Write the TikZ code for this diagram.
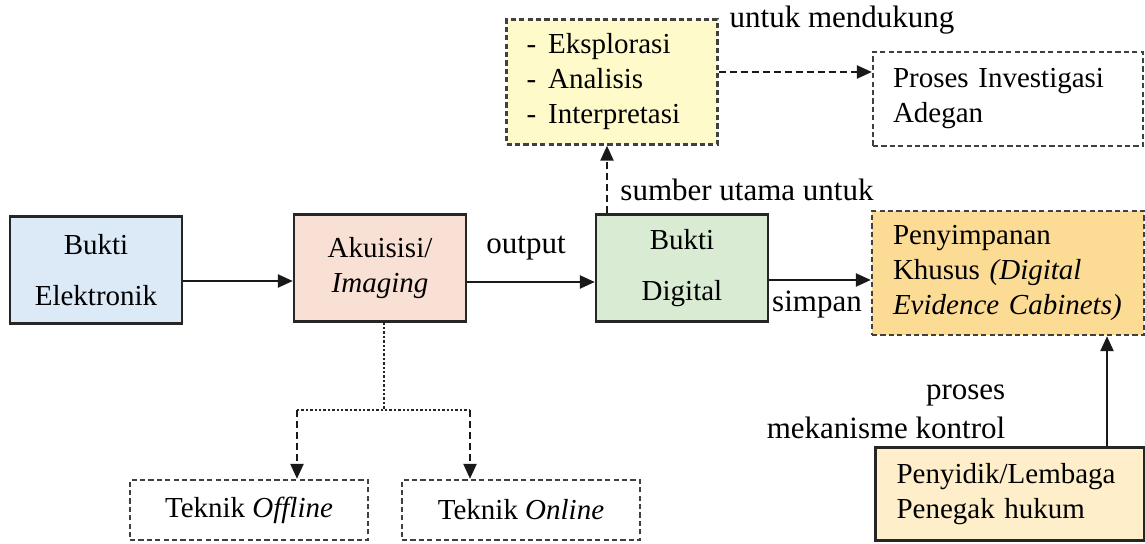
\documentclass[tikz,border=0pt]{standalone}
\usepackage{fontspec}
\setmainfont{Liberation Serif}
\usetikzlibrary{arrows.meta}
\definecolor{elekblue}{HTML}{DCE9F6}
\definecolor{akuipink}{HTML}{F9E0D5}
\definecolor{diggreen}{HTML}{DAEBD4}
\definecolor{storeorange}{HTML}{FCDC95}
\definecolor{explyellow}{HTML}{FFFAC9}
\definecolor{lawcream}{HTML}{FEEECA}
\tikzset{
    box/.style={draw=black!85, line width=1.2pt, align=center,
        font=\fontsize{14.5}{17.5}\selectfont},
    dashbox/.style={box, draw=black!75, dash pattern=on 2.6pt off 1.6pt},
    lbl/.style={font=\fontsize{15.5}{17.5}\selectfont, inner sep=0pt},
    link/.style={line width=1.2pt, black!90, -{Triangle[length=7.5pt,width=6.5pt]}},
    dashlink/.style={link, dash pattern=on 3.5pt off 2pt},
    dotline/.style={line width=1.2pt, black!85, dash pattern=on 1.2pt off 1pt}
}
\begin{document}
\begin{tikzpicture}[x=0.5pt,y=-0.5pt]
    \useasboundingbox (0,0) rectangle (1145,544);
    \def\bw{86pt}
    \def\bh{53.5pt}

    % main chain
    \node[box, fill=elekblue, minimum width=\bw, minimum height=\bh] (elektronik) at (96,270) {Bukti\\[8pt]Elektronik};
    \node[box, fill=akuipink, minimum width=\bw, minimum height=\bh] (akuisisi) at (380,268) {Akuisisi/\\\textit{Imaging}};
    \node[box, fill=diggreen, minimum width=\bw, minimum height=\bh] (digital) at (682,268) {\raisebox{-2pt}{Bukti}\\[8pt]\raisebox{-2pt}{Digital}};
    \node[dashbox, fill=storeorange, minimum width=136pt, minimum height=62pt, inner xsep=10.5pt,
        text width=115pt, align=left] (simpan) at (1008,273)
        {Penyimpanan\\Khusus \textit{(Digital}\\\textit{Evidence Cabinets)}};

    % upper part
    \node[dashbox, fill=explyellow, minimum width=105.5pt, minimum height=62.5pt, inner xsep=10pt,
        text width=85.5pt, align=left] (eksplorasi) at (612,82)
        {-\hspace{6pt}Eksplorasi\\-\hspace{6pt}Analisis\\-\hspace{6pt}Interpretasi};
    \node[dashbox, minimum width=135pt, minimum height=47pt, inner xsep=10pt,
        text width=115pt, align=left] (investigasi) at (1008,99)
        {Proses Investigasi\\Adegan};

    % lower part
    \node[box, fill=lawcream, minimum width=134.5pt, minimum height=46.5pt, inner xsep=10.5pt,
        text width=113.5pt, align=left] (penyidik) at (1010,494)
        {Penyidik/Lembaga\\Penegak hukum};
    \node[dashbox, minimum width=119pt, minimum height=30pt] (offline) at (249,510) {Teknik \textit{Offline}};
    \node[dashbox, minimum width=119pt, minimum height=30pt] (online) at (521,510) {Teknik \textit{Online}};

    % connectors
    \draw[link] ([yshift=-5.5pt]elektronik.east) -- ([yshift=-5.5pt]elektronik.east -| akuisisi.west);
    \draw[link] ([yshift=-7pt]akuisisi.east) -- ([yshift=-7pt]akuisisi.east -| digital.west);
    \draw[link] ([yshift=-6pt]digital.east) -- ([yshift=-6pt]digital.east -| simpan.west);
    \draw[dashlink] ([xshift=-37.5pt]digital.north) -- ([xshift=-37.5pt]digital.north |- eksplorasi.south);
    \draw[dashlink] ([yshift=5pt]eksplorasi.east) -- ([yshift=5pt]eksplorasi.east -| investigasi.west);
    \draw[link] ([xshift=48.5pt]penyidik.north) -- ([xshift=48.5pt]penyidik.north |- simpan.south);

    \coordinate (split) at (384,410);
    \coordinate (splitL) at (297,410);
    \coordinate (splitR) at (470,410);
    \draw[dotline] (akuisisi.south -| split) -- (split);
    \draw[dotline] (splitL) -- (splitR);
    \draw[dashlink] (splitL) -- (splitL |- offline.north);
    \draw[dashlink] (splitR) -- (splitR |- online.north);

    % labels
    \node[lbl] (outputlbl) at (526,248) {output};
    \node[lbl] (simpanlbl) at (817,305) {simpan};
    \node[lbl] (sumberlbl) at (747,190) {sumber utama untuk};
    \node[lbl] (dukunglbl) at (842,20) {untuk mendukung};
    \node[lbl, align=right] (kontrollbl) at (886,412) {proses\\[2pt]mekanisme kontrol};
\end{tikzpicture}
\end{document}
